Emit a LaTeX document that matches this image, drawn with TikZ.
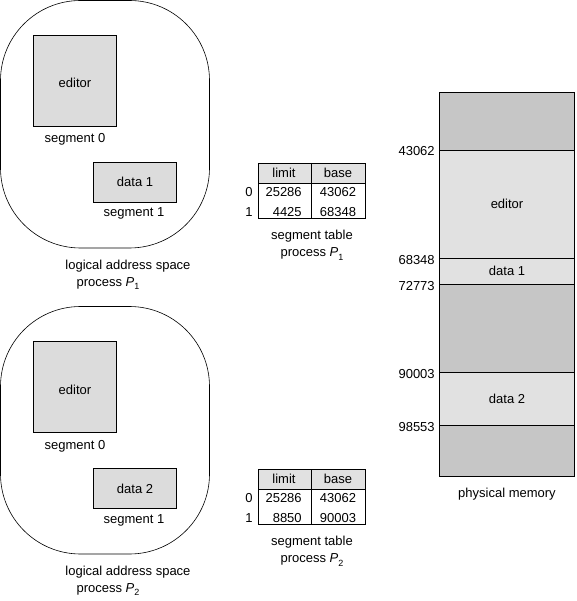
\documentclass[tikz,border=0pt]{standalone}
\usepackage{fontspec}
\setmainfont{Liberation Sans}
\definecolor{segfill}{RGB}{220,220,220}
\definecolor{holefill}{RGB}{198,198,198}
\definecolor{usedfill}{RGB}{225,225,225}
\newcommand{\procP}[1]{process \textit{P}\raisebox{-3.5pt}{\fontsize{9}{9}\selectfont #1}}
\begin{document}
\begin{tikzpicture}[x=1pt,y=-1pt,line width=.6pt,
    lbl/.style={font=\fontsize{13}{15}\selectfont,inner sep=0pt,anchor=base}]
\useasboundingbox (0,0) rectangle (576,601);
\foreach \off/\n/\lim/\base in {0/1/4425/68348,306/2/8850/90003}
{
  \begin{scope}[shift={(0,\off)}]
    \draw[rounded corners=80pt](.5,.5) rectangle (209.5,248);
    \draw[fill=segfill](33.3,35) rectangle (116.7,126);
    \node[lbl] (ed\n) at (75,88) {editor};
    \node[lbl] (sz\n) at (75,143) {segment 0};
    \draw[fill=segfill](93.3,162) rectangle (176.7,202);
    \node[lbl] (dt\n) at (135,187) {data \n};
    \node[lbl] (so\n) at (134,217) {segment 1};
    \node[lbl] (las\n) at (128,269) {logical address space};
    \node[lbl] (lp\n) at (108,286) {\procP{\n}};
    % segment table
    \draw[fill=usedfill](258,163) rectangle (365,183);
    \draw(258,183) rectangle (365,218);
    \draw(311,163)--(311,218);
    \node[lbl] (lim\n) at (284,177.5) {limit};
    \node[lbl] (bas\n) at (338,177.5) {base};
    \node[lbl] (rz\n) at (249,196.5) {0};
    \node[lbl,anchor=base east] (lz\n) at (302,196.5) {25286};
    \node[lbl] (bz\n) at (338,196.5) {43062};
    \node[lbl] (ro\n) at (249,216.5) {1};
    \node[lbl,anchor=base east] (lo\n) at (302,216.5) {\lim};
    \node[lbl] (bo\n) at (338,216.5) {\base};
    \node[lbl] (st\n) at (312,239.5) {segment table};
    \node[lbl] (sp\n) at (312,256.5) {\procP{\n}};
  \end{scope}
}
% physical memory
\fill[holefill](439,92) rectangle (574,476);
\draw[fill=usedfill](439,150) rectangle (574,258.5);
\draw[fill=usedfill](439,258.5) rectangle (574,284);
\draw[fill=usedfill](439,372) rectangle (574,425);
\draw(439,92) rectangle (574,476);
\foreach \y/\v in {150/43062,258.5/68348,284/72773,372/90003,425/98553}
{
    \node[lbl,anchor=base east] (m\v) at (435,\y+6) {\v};
}
\node[lbl] (med) at (507,208.5) {editor};
\node[lbl] (mda) at (507,275.5) {data 1};
\node[lbl] (mdb) at (507,403.5) {data 2};
\node[lbl] (pm) at (507,497) {physical memory};
\end{tikzpicture}
\end{document}
